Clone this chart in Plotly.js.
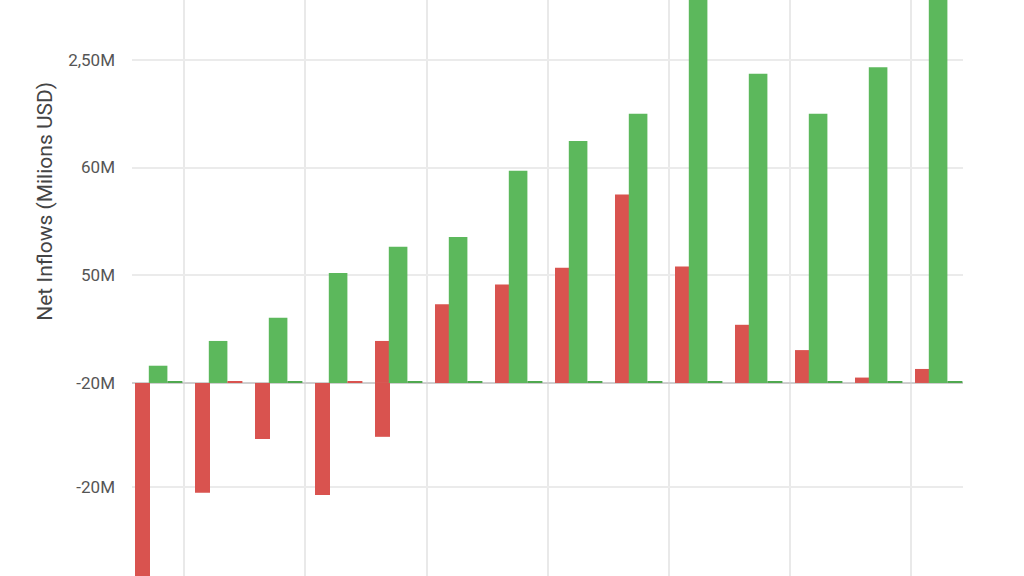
<!DOCTYPE html>
<html>
<head>
<meta charset="utf-8">
<script src="https://cdn.plot.ly/plotly-3.0.1.min.js"></script>
<style>
  html, body { margin: 0; padding: 0; background: #fff; }
  #chart { width: 1024px; height: 576px; }
</style>
</head>
<body>
<div id="chart"></div>
<script>
// one slot per period, left to right
var periods = [0, 1, 2, 3, 4, 5, 6, 7, 8, 9, 10, 11, 12, 13];

var outflows = [-40, -20.4, -10.4, -20.8, -10.0, 0, 0, 0, 0, 0, 0, 0, 0, 0];
var inflowsA = [0, 0, 0, 0, 7.8, 14.6, 18.3, 21.4, 35.0, 21.6, 10.8, 6.1, 1.0, 2.6];
var inflowsB = [3.2, 7.8, 12.1, 20.4, 25.3, 27.1, 39.4, 44.9, 50.0, 75, 57.4, 50.0, 58.6, 74];
var residual = [0.35, 0.35, 0.35, 0.35, 0.35, 0.35, 0.35, 0.35, 0.35, 0.35, 0.35, 0.35, 0.35, 0.35];
var residualKind = ['g', 'r', 'g', 'r', 'g', 'g', 'g', 'g', 'g', 'g', 'g', 'g', 'g', 'g'];

var tickVals = [-19.3, 0, 20, 40, 60];
var tickText = ['-20M', '-20M', '50M', '60M', '2,50M'];

var red = '#d9534f';
var green = '#5cb85c';

var trace1 = {
  x: periods,
  y: outflows,
  type: 'bar',
  offset: -0.4,
  width: 0.25,
  marker: { color: red },
  hoverinfo: 'y'
};

var trace2 = {
  x: periods,
  y: inflowsA,
  type: 'bar',
  offset: -0.4,
  width: 0.25,
  marker: { color: red },
  hoverinfo: 'y'
};

var trace3 = {
  x: periods,
  y: inflowsB,
  type: 'bar',
  offset: -0.17,
  width: 0.31,
  marker: { color: green },
  hoverinfo: 'y'
};

var trace4 = {
  x: periods,
  y: residual,
  type: 'bar',
  offset: 0.14,
  width: 0.25,
  marker: { color: residualKind.map(function (k) { return k === 'r' ? red : '#4fa84f'; }) },
  hoverinfo: 'y'
};

var data = [trace1, trace2, trace3, trace4];

var layout = {
  width: 1024,
  height: 576,
  barmode: 'overlay',
  showlegend: false,
  paper_bgcolor: '#fff',
  plot_bgcolor: '#fff',
  margin: { l: 132, r: 61, t: 0, b: 0 },
  font: { family: 'Roboto, Arial, sans-serif', color: '#555' },
  xaxis: {
    range: [-0.45, 13.4],
    showticklabels: false,
    tick0: 0.42,
    dtick: 2.02,
    showgrid: true,
    gridcolor: '#e9e9e9',
    gridwidth: 1.5,
    zeroline: false,
    showline: false
  },
  yaxis: {
    range: [-35.84, 71.1],
    tickmode: 'array',
    tickvals: tickVals,
    ticktext: tickText,
    tickfont: { size: 17, color: '#555' },
    ticklabelstandoff: 16,
    gridcolor: '#ebebeb',
    gridwidth: 1.5,
    zeroline: true,
    zerolinecolor: '#cfcfcf',
    zerolinewidth: 1.5,
    showline: false
  },
  annotations: [{
    text: 'Net Inflows (Milions USD)',
    xref: 'paper',
    yref: 'paper',
    x: -0.105,
    y: 0.651,
    xanchor: 'center',
    yanchor: 'middle',
    textangle: -90,
    showarrow: false,
    font: { size: 21, color: '#444' }
  }]
};

var config = {
  responsive: false,
  displayModeBar: false
};

Plotly.newPlot('chart', data, layout, config);
</script>
</body>
</html>
